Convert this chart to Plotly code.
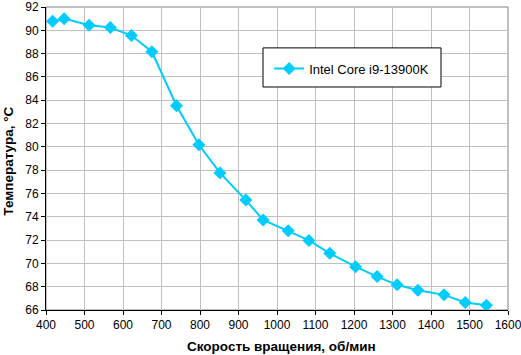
import plotly.graph_objects as go

rpm = [417, 447, 512, 567, 622, 675, 739, 797, 852, 919, 964, 1029, 1083, 1137, 1204, 1260, 1312, 1366, 1434, 1489, 1544]
temp = [90.78, 91.0, 90.44, 90.24, 89.55, 88.16, 83.53, 80.18, 77.76, 75.43, 73.73, 72.8, 71.97, 70.86, 69.72, 68.87, 68.16, 67.7, 67.3, 66.65, 66.4]
series_name = "Intel Core i9-13900K"
x_title = "Скорость вращения, об/мин"
y_title = "Температура, °C"

color = "#00ccff"
font = "Liberation Sans, Arial, sans-serif"

fig = go.Figure()
fig.add_trace(go.Scatter(
    x=rpm, y=temp, mode="lines+markers", name=series_name,
    line=dict(color=color, width=2),
    marker=dict(symbol="diamond", size=10, color=color),
))

fig.update_layout(
    width=521, height=355,
    margin=dict(l=46, r=13, t=7, b=45, autoexpand=False),
    paper_bgcolor="white", plot_bgcolor="white",
    font=dict(family=font, size=12, color="black"),
    showlegend=True,
    legend=dict(
        x=0.483, y=0.797, xanchor="left", yanchor="middle",
        borderwidth=0, bgcolor="rgba(0,0,0,0)",
        font=dict(size=13),
    ),
)
fig.update_xaxes(
    range=[400, 1600], dtick=100, tick0=400,
    showgrid=True, gridcolor="#c0c0c0", gridwidth=1,
    showline=True, linecolor="black", linewidth=1, mirror=False,
    ticks="outside", ticklen=4, tickcolor="black",
    automargin=False, ticklabeloverflow="allow",
    zeroline=False,
)
fig.update_yaxes(
    range=[66, 92], dtick=2, tick0=66,
    showgrid=True, gridcolor="#c0c0c0", gridwidth=1,
    showline=True, linecolor="black", linewidth=1,
    ticks="outside", ticklen=4, tickcolor="black",
    automargin=False, ticklabeloverflow="allow",
    zeroline=False,
)
fig.add_annotation(text="<b>" + x_title + "</b>", xref="paper", yref="paper",
                   x=0.509, y=-0.122, xanchor="center", yanchor="middle",
                   showarrow=False, font=dict(size=13.5))
fig.add_annotation(text="<b>" + y_title + "</b>", xref="paper", yref="paper",
                   x=-0.082, y=0.49, xanchor="center", yanchor="middle",
                   textangle=-90, showarrow=False, font=dict(size=13.5))
# gray border on top/right of plot area
fig.add_shape(type="rect", xref="paper", yref="paper", x0=0, y0=0, x1=1, y1=1,
              line=dict(color="#808080", width=1), layer="below")
# legend box
fig.add_shape(type="rect", xref="paper", yref="paper", x0=0.4697, y0=0.736, x1=0.855, y1=0.865,
              line=dict(color="black", width=1), fillcolor="white", layer="above")
fig.write_html("out.html", config={"displayModeBar": False},
               post_script="document.body.style.margin='0';document.body.style.overflow='hidden';")
